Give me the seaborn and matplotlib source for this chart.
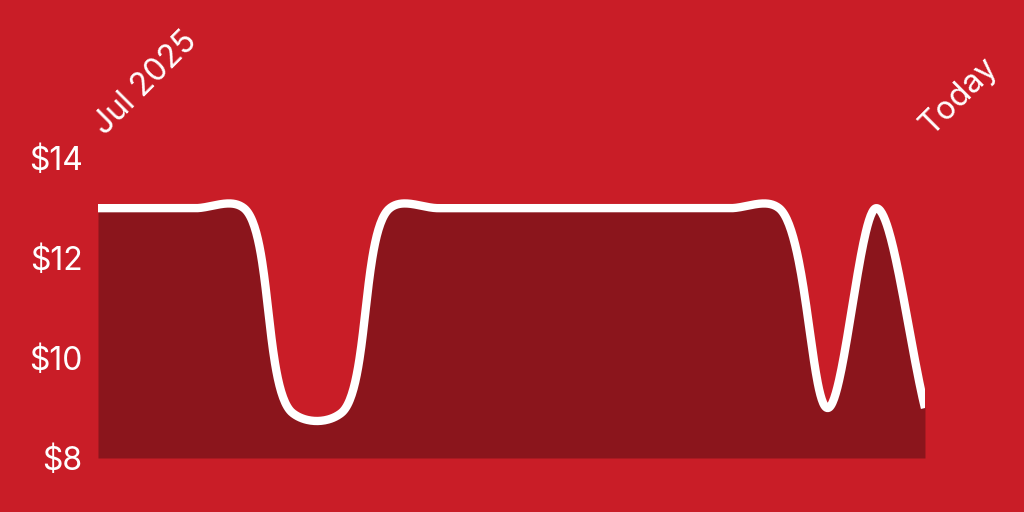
import numpy as np
import matplotlib
matplotlib.use('Agg')
import matplotlib.pyplot as plt
import seaborn as sns

# price history, Jul 2025 -> today (roughly evenly spaced samples)
prices = [13.0, 13.0, 13.0, 13.0, 8.9, 8.9, 13.0, 13.0, 13.0,
          13.0, 13.0, 13.0, 13.0, 13.0, 13.0, 9.0, 13.0, 9.0]
tick_labels = ['Jul 2025', 'Today']
y_ticks = [8, 10, 12, 14]

BG = '#C91D27'
FILL = '#8B151C'

sns.set_theme(style='white')
plt.rcParams['font.family'] = ['Inter', 'DejaVu Sans']


def smooth(y, sx=48.65, sy=50.0, n=60, alpha=0.5):
    # centripetal catmull-rom through the samples, only for drawing the curve
    # (worked out in screen-ish units so the curve looks like the web one)
    pts = np.column_stack([np.arange(len(y)) * sx, np.asarray(y, float) * sy])
    pts = np.vstack([2 * pts[0] - pts[1], pts, 2 * pts[-1] - pts[-2]])
    out = []
    for i in range(len(pts) - 3):
        p0, p1, p2, p3 = pts[i:i + 4]
        t0 = 0.0
        t1 = t0 + np.linalg.norm(p1 - p0) ** alpha
        t2 = t1 + np.linalg.norm(p2 - p1) ** alpha
        t3 = t2 + np.linalg.norm(p3 - p2) ** alpha
        t = np.linspace(t1, t2, n, endpoint=False)[:, None]
        a1 = (t1 - t) / (t1 - t0) * p0 + (t - t0) / (t1 - t0) * p1
        a2 = (t2 - t) / (t2 - t1) * p1 + (t - t1) / (t2 - t1) * p2
        a3 = (t3 - t) / (t3 - t2) * p2 + (t - t2) / (t3 - t2) * p3
        b1 = (t2 - t) / (t2 - t0) * a1 + (t - t0) / (t2 - t0) * a2
        b2 = (t3 - t) / (t3 - t1) * a2 + (t - t1) / (t3 - t1) * a3
        out.append((t2 - t) / (t2 - t1) * b1 + (t - t1) / (t2 - t1) * b2)
    out.append(pts[-2][None, :])
    c = np.vstack(out)
    return c[:, 0] / sx, c[:, 1] / sy


xs, ys = smooth(prices)

fig = plt.figure(figsize=(10.24, 5.12), dpi=100, facecolor=BG)
ax = fig.add_axes([0.0957, 0.1055, 0.8076, 0.5855])
ax.set_facecolor(BG)

ax.fill_between(xs, 8, ys, color=FILL, linewidth=0)
sns.lineplot(x=xs, y=ys, ax=ax, color='white', linewidth=6,
             solid_capstyle='butt', sort=False)

ax.set_xlim(0, len(prices) - 1)
ax.set_ylim(8, 14)
ax.set_yticks(y_ticks)
ax.set_yticklabels([f'${v}' for v in y_ticks])
ax.set_xticks([])

# rotated date labels above the plot, at the first and last sample
for xpos, lab in zip([0, len(prices) - 1], tick_labels):
    ax.annotate(lab, xy=(xpos, 1), xycoords=ax.get_xaxis_transform(),
                xytext=(8.6, 12.2), textcoords='offset points',
                rotation=45, rotation_mode='anchor', ha='left', va='bottom',
                color='white', fontsize=23, annotation_clip=False)

ax.tick_params(axis='both', length=0, colors='white', labelsize=23)
ax.tick_params(axis='y', pad=11)
for s in ax.spines.values():
    s.set_visible(False)
ax.grid(False)

fig.savefig('out.png', dpi=100, facecolor=BG)
